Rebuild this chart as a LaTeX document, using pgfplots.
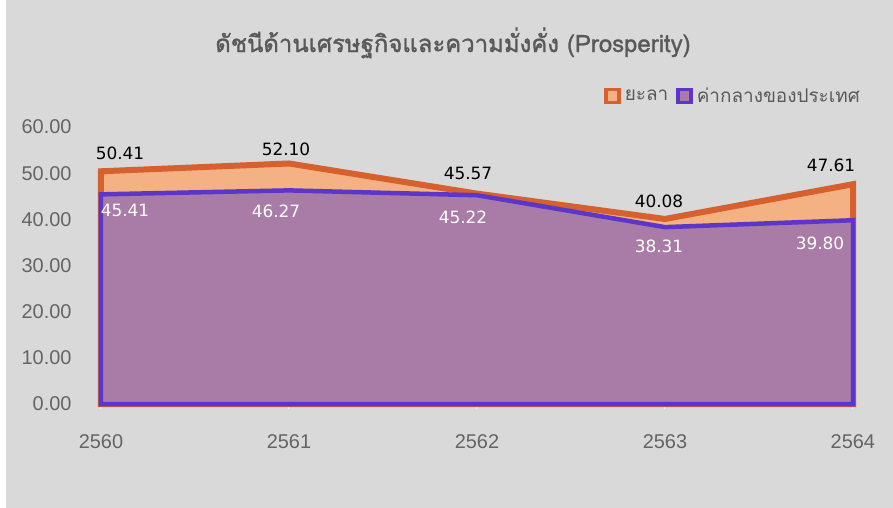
\documentclass[border=0pt]{standalone}
\usepackage{fontspec}
\setmainfont{Liberation Sans}
\newfontfamily\thaifont[Script=Thai]{Loma}
\newfontfamily\thaititle[Script=Thai, FakeBold=1.3]{Loma}
\newfontfamily\numfont{DejaVu Sans}
\usepackage{pgfplots}
\pgfplotsset{compat=1.18}
\usepackage{pgfplotstable}
\usetikzlibrary{backgrounds}

\definecolor{bg}{RGB}{217,217,217}
\definecolor{txt}{RGB}{89,89,89}
\definecolor{ticktxt}{RGB}{100,100,100}
\definecolor{yalaline}{RGB}{214,96,46}
\definecolor{yalafill}{RGB}{244,177,131}
\definecolor{natline}{RGB}{92,54,202}
\definecolor{natfill}{RGB}{169,123,167}

% x value dx dy  (dx, dy = label offset in bp)
\pgfplotstableread{
x    y     dx   dy
2560 50.41 19   18
2561 52.10 -3   14.5
2562 45.57 -9   20.5
2563 40.08 -6   18
2564 47.61 -22  19
}\yala
\pgfplotstableread{
x    y     dx   dy
2560 45.41 24   -16.5
2561 46.27 -13  -20.5
2562 45.22 -14  -22
2563 38.31 -6   -19
2564 39.80 -33  -23
}\national

\begin{document}
\begin{tikzpicture}
\begin{axis}[
  scale only axis, width=752bp, height=277bp,
  xmin=2560, xmax=2564, ymin=0, ymax=60,
  xtick={2560,...,2564}, xticklabels={2560,2561,2562,2563,2564},
  ytick={0,10,...,60},
  /pgf/number format/assume math mode=true,
  yticklabel={\pgfmathprintnumber[fixed,fixed zerofill,precision=2]{\tick}},
  ticklabel style={font=\fontsize{20}{24}\selectfont, text=ticktxt},
  xticklabel style={yshift=-22bp},
  yticklabel style={xshift=-21bp},
  axis x line*=bottom, axis y line*=left,
  x axis line style={-, draw=white!92!gray, line width=1bp},
  y axis line style={draw=none},
  xtick style={draw=white!92!gray, line width=1bp},
  ytick style={draw=none},
  tick align=outside, major tick length=5bp,
  clip=false,
  title={\thaititle ดัชนีด้านเศรษฐกิจและความมั่งคั่ง (Prosperity)},
  title style={at={(axis description cs:0.468,1.249)}, anchor=base,
    font=\fontsize{24}{28}\selectfont, text=txt},
  legend style={at={(axis description cs:1.016,1.112)}, anchor=east,
    draw=none, fill=none, legend columns=2,
    font=\thaifont\fontsize{19}{22}\selectfont, text=txt,
    /tikz/every odd column/.append style={column sep=2bp},
    /tikz/every even column/.append style={column sep=6bp}},
  legend image code/.code={\draw[#1, line width=3.5bp] (0bp,-6.5bp) rectangle (13bp,6.5bp);},
  point meta=y,
  nodes near coords={\pgfmathprintnumber[fixed,fixed zerofill,precision=2]{\pgfplotspointmeta}},
  visualization depends on={\thisrow{dx}\as\dx},
  visualization depends on={\thisrow{dy}\as\dy},
  every node near coord/.append style={font=\numfont\fontsize{17}{20}\selectfont,
    anchor=center, xshift=\dx bp, yshift=\dy bp},
]
\addplot[draw=yalaline, fill=yalafill, line width=6bp,
  every node near coord/.append style={text=black}] table[x=x,y=y] {\yala} \closedcycle;
\addplot[draw=natline, fill=natfill, line width=4.5bp,
  every node near coord/.append style={text=white}] table[x=x,y=y] {\national} \closedcycle;
\legend{ยะลา, ค่ากลางของประเทศ}
\end{axis}
\begin{scope}[on background layer]
\fill[white] (-101bp,-104bp) rectangle (792bp,404bp);
\fill[bg] (-95bp,-104bp) rectangle (792bp,404bp);
\end{scope}
\pgfresetboundingbox
\path (-101bp,-104bp) rectangle (792bp,404bp);
\end{tikzpicture}
\end{document}
